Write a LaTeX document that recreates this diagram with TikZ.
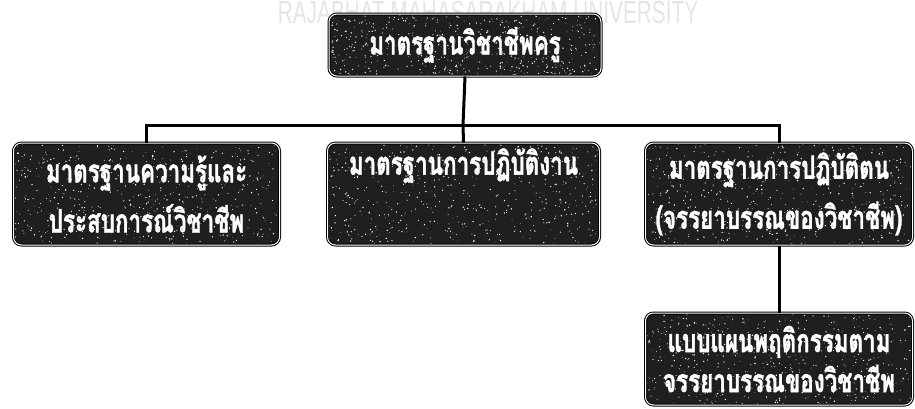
\documentclass[tikz,border=0pt]{standalone}
\usepackage{graphicx}
\usepackage{fontspec}
\setmainfont{Liberation Sans}
\newfontfamily\thaifont[Script=Thai,FakeBold=1.5]{Loma}
\newcommand\thl[1]{\scalebox{0.70}[1]{#1}}
\usetikzlibrary{calc}
\tikzset{
  speckles/.style={path picture={
    \foreach \i in {1,...,550}{
      \fill[white] let \p1=(path picture bounding box.south west),
                       \p2=(path picture bounding box.north east) in
        ({\x1+rnd*(\x2-\x1)},{\y1+rnd*(\y2-\y1)}) circle[radius={0.3pt+0.5pt*rnd}];
    }}},
  box/.style={draw=black, line width=1pt, double=white, double distance=1pt,
    rounded corners=8pt, fill=black!88, text=white, speckles,
    font=\thaifont\bfseries\fontsize{32}{50}\selectfont, align=center,
    minimum height=102pt, inner sep=0pt},
  conn/.style={draw=black, line width=3pt},
  wmark/.style={text=black!10, font=\fontsize{32}{32}\selectfont, xscale=0.65, inner sep=0pt}
}
\begin{document}
\begin{tikzpicture}[x=1pt,y=-1pt]
\useasboundingbox (0,0) rectangle (915,408);
\node[wmark, anchor=base] (wm) at (488,23.5) {RAJABHAT MAHASARAKHAM UNIVERSITY};
\node[box, minimum width=272pt, minimum height=62pt] (top) at (465,45) {\thl{มาตรฐานวิชาชีพครู}};
\node[box, minimum width=266pt] (left) at (146.5,194) {\thl{มาตรฐานความรู้และ}\\\thl{ประสบการณ์วิชาชีพ}};
\node[box, minimum width=272pt] (mid) at (463.5,194) {\thl{มาตรฐานการปฏิบัติงาน}\\\strut};
\node[box, minimum width=267pt] (right) at (779,194) {\thl{มาตรฐานการปฏิบัติตน}\\\thl{(จรรยาบรรณของวิชาชีพ)}};
\node[box, minimum width=267pt, minimum height=92pt, font=\thaifont\bfseries\fontsize{32}{40}\selectfont] (bottom) at (779,359) {\thl{แบบแผนพฤติกรรมตาม}\\\thl{จรรยาบรรณของวิชาชีพ}};
\coordinate (bus) at (463,125);
\draw[conn] (top.south) -- (bus);
\draw[conn] (bus) -| (left.north);
\draw[conn] (bus) -| (right.north);
\draw[conn] (bus) -- (mid.north);
\draw[conn] (right.south) -- (bottom.north);
\end{tikzpicture}
\end{document}
